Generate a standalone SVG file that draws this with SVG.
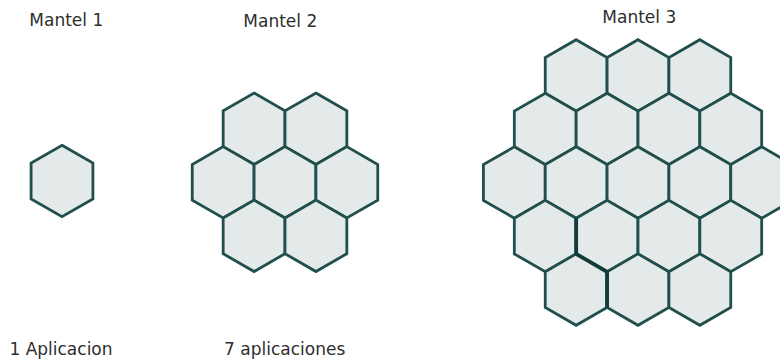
<svg xmlns="http://www.w3.org/2000/svg" xmlns:xlink="http://www.w3.org/1999/xlink" width="780" height="363" viewBox="0 0 780 363">
<style>
.hex{fill:#e4e9e9;stroke:#204f4d;stroke-width:2.8;stroke-linejoin:miter}
.lbl{font-family:"DejaVu Sans",Verdana,sans-serif;font-size:17px;fill:#2e2e2e;text-anchor:middle}
.thick{fill:none;stroke:#133c3a;stroke-width:3.8;stroke-linejoin:miter}
</style>
<defs>
<polygon id="h" class="hex" points="0,-35.7 30.92,-17.85 30.92,17.85 0,35.7 -30.92,17.85 -30.92,-17.85"/>
</defs>
<rect width="780" height="363" fill="#fff"/>
<g id="labels">
<text class="lbl" x="66.3" y="26">Mantel 1</text>
<text class="lbl" x="280.3" y="27">Mantel 2</text>
<text class="lbl" x="639.3" y="23">Mantel 3</text>
<text class="lbl" x="61" y="354.5">1 Aplicacion</text>
<text class="lbl" x="284.7" y="355">7 aplicaciones</text>
</g>
<g id="mantel1">
<g id="m1-h1"><use href="#h" x="62" y="181"/></g>
</g>
<g id="mantel2">
<g id="m2-h1"><use href="#h" x="254.08" y="128.75"/></g>
<g id="m2-h2"><use href="#h" x="315.92" y="128.75"/></g>
<g id="m2-h3"><use href="#h" x="223.16" y="182.3"/></g>
<g id="m2-h4"><use href="#h" x="285" y="182.3"/></g>
<g id="m2-h5"><use href="#h" x="346.84" y="182.3"/></g>
<g id="m2-h6"><use href="#h" x="254.08" y="235.85"/></g>
<g id="m2-h7"><use href="#h" x="315.92" y="235.85"/></g>
</g>
<g id="mantel3">
<g id="m3-h1"><use href="#h" x="576.16" y="75.4"/></g>
<g id="m3-h2"><use href="#h" x="638" y="75.4"/></g>
<g id="m3-h3"><use href="#h" x="699.84" y="75.4"/></g>
<g id="m3-h4"><use href="#h" x="545.24" y="128.95"/></g>
<g id="m3-h5"><use href="#h" x="607.08" y="128.95"/></g>
<g id="m3-h6"><use href="#h" x="668.92" y="128.95"/></g>
<g id="m3-h7"><use href="#h" x="730.76" y="128.95"/></g>
<g id="m3-h8"><use href="#h" x="514.32" y="182.5"/></g>
<g id="m3-h9"><use href="#h" x="576.16" y="182.5"/></g>
<g id="m3-h10"><use href="#h" x="638" y="182.5"/></g>
<g id="m3-h11"><use href="#h" x="699.84" y="182.5"/></g>
<g id="m3-h12"><use href="#h" x="761.68" y="182.5"/></g>
<g id="m3-h13"><use href="#h" x="545.24" y="236.05"/></g>
<g id="m3-h14"><use href="#h" x="607.08" y="236.05"/></g>
<g id="m3-h15"><use href="#h" x="668.92" y="236.05"/></g>
<g id="m3-h16"><use href="#h" x="730.76" y="236.05"/></g>
<g id="m3-h17"><use href="#h" x="576.16" y="289.6"/></g>
<g id="m3-h18"><use href="#h" x="638" y="289.6"/></g>
<g id="m3-h19"><use href="#h" x="699.84" y="289.6"/></g>
<path class="thick" d="M576.16,218.2 L576.16,253.9 L607.08,271.75 L607.08,307.45"/>
</g>
</svg>
